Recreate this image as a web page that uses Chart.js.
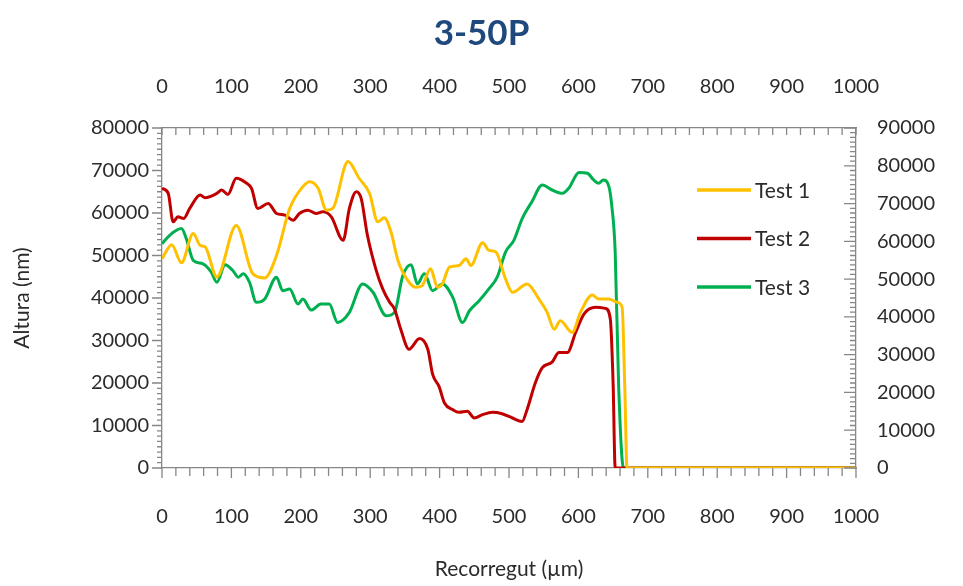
<!DOCTYPE html>
<html>
<head>
<meta charset="utf-8">
<script src="https://cdn.jsdelivr.net/npm/chart.js@4.4.1/dist/chart.umd.min.js"></script>
<style>
  html, body { margin: 0; padding: 0; background: #fff; }
  #wrap { width: 963px; height: 586px; }
</style>
</head>
<body>
<div id="wrap"><canvas id="profile"></canvas></div>
<script>
// dades dels tres tests (x en µm, y en nm)
const test1X = [0, 14, 28, 45, 55, 62, 79, 107, 131, 148, 165, 184, 203, 213, 225, 237, 246, 268, 284, 299, 311, 320, 330, 340, 356, 366, 375, 387, 397, 404, 414, 428, 438, 445, 462, 471, 481, 495, 505, 526, 543, 555, 565, 574, 591, 603, 620, 629, 644, 656, 663, 667, 670, 700, 800, 900, 1000];
const test1Y = [49230, 52550, 48290, 55150, 52380, 52070, 44970, 57040, 45680, 44730, 50020, 61070, 66200, 67380, 65800, 60670, 61070, 72120, 68170, 64620, 57920, 58870, 55550, 48800, 43710, 42530, 42920, 46870, 42530, 43310, 47270, 47650, 49230, 47650, 53020, 51200, 50820, 44500, 41350, 43310, 39770, 36620, 32660, 34630, 31880, 36620, 40710, 39770, 39770, 38980, 37800, 18000, 0, 0, 0, 0, 0];

const test2X = [0, 9, 16, 23, 31, 40, 55, 62, 79, 86, 95, 107, 122, 129, 138, 153, 165, 177, 189, 198, 210, 222, 232, 244, 261, 270, 280, 287, 296, 308, 318, 328, 335, 344, 356, 371, 383, 390, 399, 407, 419, 428, 440, 450, 462, 476, 490, 505, 519, 526, 538, 548, 562, 572, 584, 596, 608, 625, 639, 646, 650, 653, 700, 800, 900, 1000];
const test2Y = [65800, 64620, 57920, 59100, 58700, 61070, 64230, 63600, 64620, 65410, 64380, 68170, 66990, 65800, 61070, 62250, 59890, 59490, 58300, 59890, 60670, 59890, 60280, 59100, 53570, 61070, 65020, 63440, 54750, 46870, 42130, 38980, 37400, 32660, 27930, 30460, 27930, 22010, 19250, 15310, 13730, 13100, 13330, 11760, 12550, 13100, 12780, 11760, 10970, 13730, 20050, 23600, 24920, 27150, 27150, 31880, 36220, 37800, 37560, 35030, 20000, 0, 0, 0, 0, 0];

const test3X = [0, 11, 28, 35, 45, 59, 71, 79, 91, 102, 110, 117, 126, 136, 148, 165, 174, 184, 196, 203, 215, 229, 241, 253, 270, 289, 304, 323, 335, 347, 359, 368, 378, 390, 404, 419, 433, 443, 457, 471, 483, 495, 507, 519, 533, 548, 562, 577, 586, 601, 613, 622, 629, 636, 644, 648, 653, 658, 665, 700, 800, 900, 1000];
const test3Y = [52790, 54750, 56330, 53970, 48840, 48050, 46080, 43720, 47810, 46470, 44890, 45680, 43720, 38980, 39770, 44890, 41730, 42130, 38580, 39770, 37160, 38580, 38580, 34250, 36620, 43310, 41350, 35820, 36620, 45280, 47810, 43310, 45680, 41730, 43310, 40160, 34250, 37000, 39370, 42130, 44890, 50820, 53570, 58700, 62650, 66590, 65410, 64620, 65800, 69510, 69350, 67770, 66990, 67770, 66200, 61850, 50820, 19250, 0, 0, 0, 0, 0];

const seriesNames = ['Test 1', 'Test 2', 'Test 3'];
const seriesColors = ['#FFC000', '#C00000', '#00B050'];

const axisGray = '#868686';
const textColor = '#2b2b2b';
const fontFam = 'Lato, "Open Sans", sans-serif';
const tickFont = { family: fontFam, size: 20 };

function toPoints(xs, ys) {
  return xs.map((x, i) => ({ x: x, y: ys[i] }));
}

// sense separador de milers
const plainNum = v => String(v);

// ticks menors a les quatre vores
const minorTicks = {
  id: 'minorTicks',
  afterDraw(chart) {
    const ctx = chart.ctx;
    const a = chart.chartArea;
    const s = chart.scales;
    ctx.save();
    ctx.strokeStyle = axisGray;
    ctx.lineWidth = 1.3;
    ctx.beginPath();
    for (let v = 0; v <= 1000; v += 20) {
      const px = s.x.getPixelForValue(v);
      const big = v % 100 === 0;
      ctx.moveTo(px, a.bottom);
      ctx.lineTo(px, a.bottom + (big ? 10 : 8));
      ctx.moveTo(px, a.top);
      ctx.lineTo(px, a.top + 7);
    }
    for (let v = 0; v <= 80000; v += 1250) {
      const py = s.y.getPixelForValue(v);
      const big = v % 10000 === 0;
      ctx.moveTo(a.left, py);
      ctx.lineTo(a.left - (big ? 10 : 5), py);
    }
    for (let v = 0; v <= 90000; v += 1250) {
      const py = s.y2.getPixelForValue(v);
      const big = v % 10000 === 0;
      ctx.moveTo(a.right, py);
      ctx.lineTo(a.right - (big ? 12 : 6), py);
    }
    ctx.stroke();
    ctx.restore();
  }
};

// llegenda dins l'àrea del gràfic
const innerLegend = {
  id: 'innerLegend',
  afterDraw(chart) {
    const ctx = chart.ctx;
    ctx.save();
    ctx.font = '21px ' + fontFam;
    ctx.textBaseline = 'middle';
    chart.data.datasets.forEach((ds, i) => {
      const y = 190 + i * 48.5;
      ctx.strokeStyle = ds.borderColor;
      ctx.lineWidth = 3.5;
      ctx.beginPath();
      ctx.moveTo(697, y);
      ctx.lineTo(751, y);
      ctx.stroke();
      ctx.fillStyle = textColor;
      ctx.fillText(ds.label, 755, y + 1);
    });
    ctx.restore();
  }
};

const ctx = document.getElementById('profile');

new Chart(ctx, {
  type: 'scatter',
  data: {
    datasets: [
      { label: seriesNames[0], data: toPoints(test1X, test1Y), borderColor: seriesColors[0] },
      { label: seriesNames[1], data: toPoints(test2X, test2Y), borderColor: seriesColors[1] },
      { label: seriesNames[2], data: toPoints(test3X, test3Y), borderColor: seriesColors[2] }
    ].map(d => Object.assign(d, {
      showLine: true,
      pointRadius: 0,
      borderWidth: 3,
      cubicInterpolationMode: 'monotone',
      backgroundColor: 'transparent',
      xAxisID: 'x',
      yAxisID: 'y'
    }))
  },
  options: {
    responsive: true,
    maintainAspectRatio: false,
    animation: false,
    layout: { padding: 0 },
    plugins: {
      legend: { display: false },
      tooltip: { enabled: false },
      title: {
        display: true,
        text: '3-50P',
        color: '#1F497D',
        font: { family: fontFam, size: 35, weight: 'bold' },
        padding: { top: 13, bottom: 0 }
      }
    },
    scales: {
      x: {
        type: 'linear',
        position: 'bottom',
        min: 0, max: 1000,
        afterFit: s => { s.height = 118; },
        border: { color: axisGray, width: 1.3 },
        grid: { display: false, drawTicks: false },
        ticks: { stepSize: 100, padding: 37, color: textColor, font: tickFont, maxRotation: 0, callback: plainNum },
        title: { display: true, text: 'Recorregut (µm)', color: textColor, font: { family: fontFam, size: 21 }, padding: { top: 0, bottom: 4 } }
      },
      x2: {
        type: 'linear',
        position: 'top',
        min: 0, max: 1000,
        afterFit: s => { s.height = 73; },
        border: { color: axisGray, width: 1.3 },
        grid: { display: false, drawTicks: false },
        ticks: { stepSize: 100, padding: 29, color: textColor, font: tickFont, maxRotation: 0, callback: plainNum }
      },
      y: {
        type: 'linear',
        position: 'left',
        min: 0, max: 80000,
        afterFit: s => { s.width = 162; },
        border: { color: axisGray, width: 1.3 },
        grid: { display: false, drawTicks: false },
        ticks: { stepSize: 10000, padding: 13, color: textColor, font: tickFont, callback: plainNum },
        title: { display: true, text: 'Altura (nm)', color: textColor, font: { family: fontFam, size: 21 }, padding: { top: 10, bottom: 0 } }
      },
      y2: {
        type: 'linear',
        position: 'right',
        min: 0, max: 90000,
        afterFit: s => { s.width = 107; },
        border: { color: axisGray, width: 1.3 },
        grid: { display: false, drawTicks: false },
        ticks: { stepSize: 10000, padding: 21, color: textColor, font: tickFont, callback: plainNum }
      }
    }
  },
  plugins: [minorTicks, innerLegend]
});
</script>
</body>
</html>
